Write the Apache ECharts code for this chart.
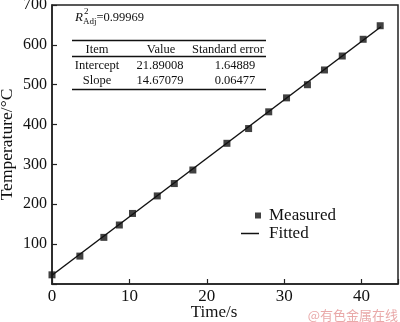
<!DOCTYPE html>
<html>
<head>
<meta charset="utf-8">
<script src="https://cdn.jsdelivr.net/npm/echarts@6/dist/echarts.min.js"></script>
<style>html,body{margin:0;padding:0;background:#fff;}#c{width:400px;height:322px;}</style>
</head>
<body>
<div id="c"></div>
<script>
// Measured data
var time = [0, 3.6, 6.7, 8.7, 10.4, 13.6, 15.8, 18.2, 22.6, 25.4, 28.0, 30.3, 33.0, 35.2, 37.5, 40.2, 42.4];
var temp = [23, 70, 117, 148, 177, 221, 252, 286, 353, 390, 432, 467, 500, 537, 572, 614, 648];
// Fitted line endpoints
var fitTime = [0, 42.5];
var fitTemp = [21.9, 645.4];
// Inset table
var r2Text = '0.99969';
var tableHeader = ['Item', 'Value', 'Standard error'];
var tableRow1 = ['Intercept', '21.89008', '1.64889'];
var tableRow2 = ['Slope', '14.67079', '0.06477'];
var xTicks = [0, 10, 20, 30, 40];
var yTicks = [100, 200, 300, 400, 500, 600, 700];

var FONT = '"Liberation Serif", "Times New Roman", serif';
var measured = time.map(function (t, i) { return [t, temp[i]]; });
var fitted = fitTime.map(function (t, i) { return [t, fitTemp[i]]; });

var chart = echarts.init(document.getElementById('c'), null, {renderer: 'canvas'});

function tableTexts() {
  var cols = [97, 161, 228];
  var cols2 = [97, 160, 235];
  var out = [];
  var rows = [[tableHeader, 50, cols], [tableRow1, 66, cols2], [tableRow2, 81, cols2]];
  rows.forEach(function (r) {
    r[0].forEach(function (txt, j) {
      out.push({type: 'text', x: r[2][j], y: r[1], style: {text: txt, fill: '#111', font: '12.5px ' + FONT, align: 'center', verticalAlign: 'middle'}});
    });
  });
  [40.5, 56.5, 89.5].forEach(function (y) {
    out.push({type: 'line', shape: {x1: 72, y1: y, x2: 266, y2: y}, style: {stroke: '#111', lineWidth: 1.3}});
  });
  out.push({type: 'text', x: 75, y: 18, style: {
    rich: {
      r: {font: 'italic 13px ' + FONT, fill: '#111'},
      sub: {font: '9px ' + FONT, fill: '#111', padding: [8, 0, 0, 0]},
      v: {font: '12.5px ' + FONT, fill: '#111'}
    },
    text: '{r|R}{sub|Adj}{v|=' + r2Text + '}', verticalAlign: 'middle'
  }});
  out.push({type: 'text', x: 84, y: 12, style: {text: '2', font: '9px ' + FONT, fill: '#111', verticalAlign: 'middle'}});
  out.push({type: 'text', x: 398, y: 315, style: {text: '@有色金属在线', font: '13px "Noto Sans CJK SC"', fill: '#e9a9a9', align: 'right', verticalAlign: 'middle'}});
  return out;
}

chart.setOption({
  animation: false,
  backgroundColor: '#fff',
  grid: {left: 52, right: 2, top: 5, bottom: 38, containLabel: false, outerBoundsMode: 'none',
    show: true, borderColor: '#222', borderWidth: 1.5, backgroundColor: 'transparent'},
  xAxis: {
    type: 'value', min: 0, max: 44.7, interval: 10,
    name: 'Time/s', nameLocation: 'middle', nameGap: 20, nameMoveOverlap: false,
    nameTextStyle: {fontFamily: FONT, fontSize: 17, color: '#111', padding: [0, 22, 0, 0]},
    axisLine: {show: true, lineStyle: {color: '#222', width: 1.5}},
    axisTick: {show: true, inside: true, length: 5, lineStyle: {color: '#222', width: 1.2}},
    splitLine: {show: false},
    axisLabel: {fontFamily: FONT, fontSize: 17, color: '#111', margin: 4,
      formatter: function (v) { return xTicks.indexOf(v) >= 0 ? String(v) : ''; }}
  },
  yAxis: {
    type: 'value', min: 0, max: 700, interval: 100,
    name: 'Temperature/°C', nameLocation: 'middle', nameGap: 36, nameMoveOverlap: false,
    nameTextStyle: {fontFamily: FONT, fontSize: 17.5, color: '#111'},
    axisLine: {show: true, lineStyle: {color: '#222', width: 1.5}},
    axisTick: {show: true, inside: true, length: 5, lineStyle: {color: '#222', width: 1.2}},
    splitLine: {show: false},
    axisLabel: {fontFamily: FONT, fontSize: 16, color: '#111', margin: 5,
      formatter: function (v) { return yTicks.indexOf(v) >= 0 ? String(v) : ''; }}
  },
  legend: [
    {data: [{name: 'Measured', icon: 'rect'}], left: 255, top: 207, padding: 0, itemWidth: 6, itemHeight: 6,
      textStyle: {fontFamily: FONT, fontSize: 17, color: '#111', padding: [0, 0, 0, 3]}},
    {data: [{name: 'Fitted', icon: 'rect'}], left: 241, top: 225, padding: 0, itemWidth: 18, itemHeight: 1.5,
      textStyle: {fontFamily: FONT, fontSize: 17, color: '#111', padding: [0, 0, 0, 5]}}
  ],
  series: [
    {name: 'Fitted', type: 'line', data: fitted, showSymbol: false, symbol: 'none',
      lineStyle: {color: '#111', width: 1.5}, itemStyle: {color: '#111'}, z: 2},
    {name: 'Measured', type: 'scatter', data: measured, symbol: 'rect', symbolSize: 7,
      itemStyle: {color: '#111'}, z: 3}
  ],
  graphic: tableTexts()
});
</script>
</body>
</html>
